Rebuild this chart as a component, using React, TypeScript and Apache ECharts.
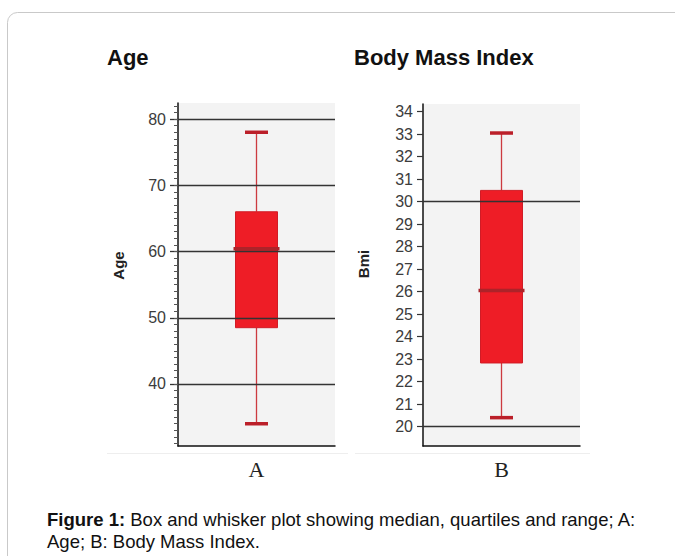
import React, { useEffect, useRef } from "react";
import * as echarts from "echarts";

// Box statistics: [min, Q1, median, Q3, max]
const ageCategories = ["A"];
const ageStats = [34, 48.5, 60.4, 66, 78];
const bmiCategories = ["B"];
const bmiStats = [20.4, 22.83, 26.05, 30.5, 33.05];

const ageTickLabels = [40, 50, 60, 70, 80];
const ageGridLines = [40, 50, 60, 70, 80];
const ageMinorTicks: number[] = [];
for (let v = 31; v <= 82; v++) ageMinorTicks.push(v);

const bmiTickLabels = [20, 21, 22, 23, 24, 25, 26, 27, 28, 29, 30, 31, 32, 33, 34];
const bmiGridLines = [20, 30];

const titles = ["Age", "Body Mass Index"];
const yNames = ["Age", "Bmi"];
const captionBold = "Figure 1:";
const captionLine1 = " Box and whisker plot showing median, quartiles and range; A:";
const captionLine2 = "Age; B: Body Mass Index.";

const SANS = "'Liberation Sans', Arial, Helvetica, sans-serif";
const SERIF = "'Liberation Serif', 'Times New Roman', serif";

function renderBox(params: any, api: any) {
  const x = api.value(0);
  const lo = api.coord([x, api.value(1)]);
  const q1 = api.coord([x, api.value(2)]);
  const med = api.coord([x, api.value(3)]);
  const q3 = api.coord([x, api.value(4)]);
  const hi = api.coord([x, api.value(5)]);
  const cx = lo[0];
  const bw = 42;
  const cw = 23;
  const whisker = { stroke: "#cc3a40", lineWidth: 1.3 };
  const cap = { stroke: "#bb1f29", lineWidth: 3.5 };
  return {
    type: "group",
    children: [
      { type: "line", shape: { x1: cx, y1: hi[1], x2: cx, y2: q3[1] }, style: whisker },
      { type: "line", shape: { x1: cx, y1: q1[1], x2: cx, y2: lo[1] }, style: whisker },
      {
        type: "rect",
        shape: { x: cx - bw / 2, y: q3[1], width: bw, height: q1[1] - q3[1] },
        style: { fill: "#ee1d26", stroke: "#d01c26", lineWidth: 1 },
      },
      {
        type: "line",
        shape: { x1: cx - bw / 2 - 2, y1: med[1], x2: cx + bw / 2 + 2, y2: med[1] },
        style: { stroke: "#ad2329", lineWidth: 3.5 },
      },
      { type: "line", shape: { x1: cx - cw / 2, y1: hi[1], x2: cx + cw / 2, y2: hi[1] }, style: cap },
      { type: "line", shape: { x1: cx - cw / 2, y1: lo[1], x2: cx + cw / 2, y2: lo[1] }, style: cap },
    ],
  };
}

export default function App() {
  const ref = useRef<HTMLDivElement>(null);

  useEffect(() => {
    if (!ref.current) return;
    const chart = echarts.init(ref.current, undefined, { renderer: "svg" });

    const yLabelStyle = { color: "#3c3c3c", fontSize: 16, fontFamily: SANS };
    const markLines = (vals: number[]) => ({
      silent: true,
      symbol: ["none", "none"],
      label: { show: false },
      lineStyle: { color: "#333", width: 1.3, type: "solid" },
      data: vals.map((v) => ({ yAxis: v })),
    });

    chart.setOption({
      animation: false,
      backgroundColor: "#ffffff",
      grid: [
        { left: 178, right: 340, top: 103, bottom: 110, show: true, backgroundColor: "#f3f3f3", borderWidth: 0 },
        { left: 423, right: 95, top: 104, bottom: 110, show: true, backgroundColor: "#f3f3f3", borderWidth: 0 },
      ],
      xAxis: [
        {
          type: "category",
          gridIndex: 0,
          data: ageCategories,
          axisLine: { lineStyle: { color: "#111", width: 1.5 } },
          axisTick: { alignWithLabel: true, length: 7, lineStyle: { color: "#222", width: 1.3 } },
          axisLabel: { color: "#222", fontSize: 22, fontFamily: SERIF, margin: 12 },
          splitLine: { show: false },
        },
        {
          type: "category",
          gridIndex: 1,
          data: bmiCategories,
          axisLine: { lineStyle: { color: "#111", width: 1.5 } },
          axisTick: { alignWithLabel: true, length: 7, lineStyle: { color: "#222", width: 1.3 } },
          axisLabel: { color: "#222", fontSize: 22, fontFamily: SERIF, margin: 12 },
          splitLine: { show: false },
        },
      ],
      yAxis: [
        {
          type: "value",
          gridIndex: 0,
          min: 30.64,
          max: 82.42,
          axisLine: { show: true, lineStyle: { color: "#111", width: 1.5 } },
          axisTick: { show: true, length: 8, customValues: ageTickLabels, lineStyle: { color: "#333", width: 1.3 } },
          axisLabel: { ...yLabelStyle, margin: 12, customValues: ageTickLabels },
          splitLine: { show: false },
        },
        {
          type: "value",
          gridIndex: 0,
          min: 30.64,
          max: 82.42,
          position: "left",
          axisLine: { show: false },
          axisTick: { show: true, length: 4, customValues: ageMinorTicks, lineStyle: { color: "#555", width: 1 } },
          axisLabel: { show: false },
          splitLine: { show: false },
        },
        {
          type: "value",
          gridIndex: 1,
          min: 19.14,
          max: 34.34,
          axisLine: { show: true, lineStyle: { color: "#111", width: 1.5 } },
          axisTick: { show: true, length: 6, customValues: bmiTickLabels, lineStyle: { color: "#333", width: 1.2 } },
          axisLabel: { ...yLabelStyle, margin: 10, customValues: bmiTickLabels },
          splitLine: { show: false },
        },
      ],
      series: [
        {
          type: "custom",
          xAxisIndex: 0,
          yAxisIndex: 0,
          renderItem: renderBox,
          encode: { x: 0, y: [1, 2, 3, 4, 5] },
          data: [[0, ...ageStats]],
          markLine: markLines(ageGridLines),
          z: 3,
        },
        {
          type: "custom",
          xAxisIndex: 1,
          yAxisIndex: 2,
          renderItem: renderBox,
          encode: { x: 0, y: [1, 2, 3, 4, 5] },
          data: [[0, ...bmiStats]],
          markLine: markLines(bmiGridLines),
          z: 3,
        },
      ],
      graphic: [
        {
          type: "rect",
          shape: { x: 7.5, y: 12.5, width: 720, height: 620, r: 10 },
          style: { fill: "none", stroke: "#c9c9c9", lineWidth: 1 },
          silent: true,
          z: -1,
        },
        {
          type: "line",
          shape: { x1: 107, y1: 453.5, x2: 348, y2: 453.5 },
          style: { stroke: "#eeeeee", lineWidth: 1 },
          silent: true,
        },
        {
          type: "line",
          shape: { x1: 355, y1: 453.5, x2: 590, y2: 453.5 },
          style: { stroke: "#eeeeee", lineWidth: 1 },
          silent: true,
        },
        {
          type: "text",
          x: 107,
          y: 57,
          style: { text: titles[0], font: `bold 22px ${SANS}`, fill: "#111", verticalAlign: "middle" },
        },
        {
          type: "text",
          x: 354,
          y: 57,
          style: { text: titles[1], font: `bold 22px ${SANS}`, fill: "#111", verticalAlign: "middle" },
        },
        {
          type: "text",
          x: 118,
          y: 265.5,
          rotation: Math.PI / 2,
          style: { text: yNames[0], font: `bold 15px ${SANS}`, fill: "#222", align: "center", verticalAlign: "middle" },
        },
        {
          type: "text",
          x: 363.5,
          y: 264,
          rotation: Math.PI / 2,
          style: { text: yNames[1], font: `bold 15px ${SANS}`, fill: "#222", align: "center", verticalAlign: "middle" },
        },
        {
          type: "text",
          x: 47,
          y: 508,
          style: {
            text: `{b|${captionBold}}{n|${captionLine1}}\n{n|${captionLine2}}`,
            verticalAlign: "top",
            rich: {
              b: { font: `bold 18.5px ${SANS}`, fill: "#111", lineHeight: 22 },
              n: { font: `18.5px ${SANS}`, fill: "#111", lineHeight: 22 },
            },
          },
        },
      ],
    });

    return () => chart.dispose();
  }, []);

  return (
    <div
      ref={ref}
      style={{ position: "absolute", left: 0, top: 0, width: 675, height: 556 }}
    />
  );
}
